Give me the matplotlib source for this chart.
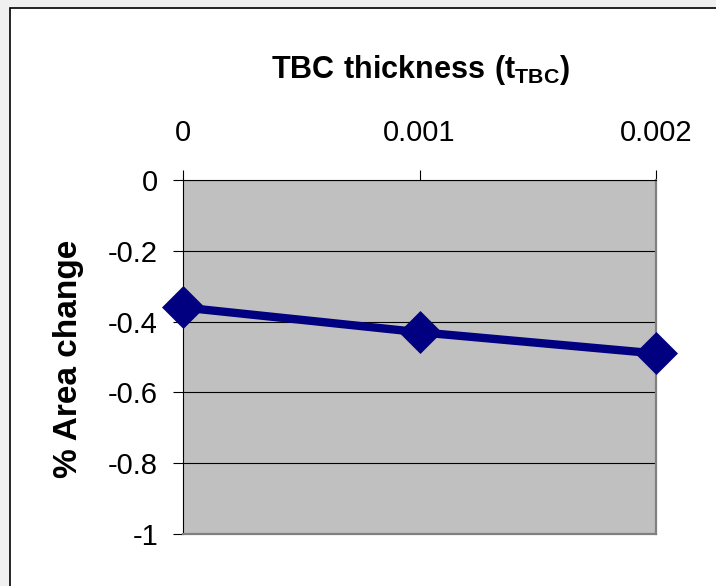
import matplotlib.pyplot as plt
from matplotlib.patches import Rectangle

# data
thickness = [0, 0.001, 0.002]
thickness_labels = ["0", "0.001", "0.002"]
area_change = [-0.36, -0.43, -0.49]
y_ticks = [0, -0.2, -0.4, -0.6, -0.8, -1]
y_tick_labels = ["0", "-0.2", "-0.4", "-0.6", "-0.8", "-1"]

plt.rcParams['font.family'] = ['Liberation Sans', 'DejaVu Sans']
plt.rcParams['mathtext.fontset'] = 'custom'
plt.rcParams['mathtext.rm'] = 'Liberation Sans'
plt.rcParams['mathtext.bf'] = 'Liberation Sans:bold'

W, H = 716, 586
fig = plt.figure(figsize=(W / 100, H / 100), dpi=100)
fig.patch.set_facecolor('#f0f0f0')

# white chart frame (runs off the right and bottom edges)
fig.patches.append(Rectangle((10 / W, -0.05), 1.1, 1 - 8 / H + 0.05, transform=fig.transFigure,
                             facecolor='white', edgecolor='black', linewidth=1.2, zorder=-1))

ax = fig.add_axes([183 / W, 1 - 534 / H, (656 - 183) / W, (534 - 180) / H])
ax.set_facecolor('#c0c0c0')

ax.plot(thickness, area_change, color='#000080', linewidth=6, marker='D',
        markersize=21, markeredgewidth=0.5, clip_on=False, zorder=5)

ax.set_xlim(0, 0.002)
ax.set_ylim(-1, 0)
ax.set_xticks(thickness)
ax.set_xticklabels(thickness_labels)
ax.set_yticks(y_ticks)
ax.set_yticklabels(y_tick_labels)

ax.xaxis.tick_top()
ax.tick_params(axis='x', direction='out', length=7, width=0.8, labelsize=21, pad=17)
ax.tick_params(axis='y', direction='out', length=7, width=0.8, labelsize=21, pad=11)

ax.grid(axis='y', color='black', linewidth=0.8)
ax.set_axisbelow(True)

for side in ['top', 'left']:
    ax.spines[side].set_color('black')
    ax.spines[side].set_linewidth(0.8)
for side in ['right', 'bottom']:
    ax.spines[side].set_color('#808080')
    ax.spines[side].set_linewidth(1.6)

fig.text(421 / W, 1 - 78 / H, r'$\mathbf{TBC\ thickness\ (t_{TBC})}$', fontsize=22,
         ha='center', va='baseline')
fig.text(68 / W, 1 - 359 / H, '% Area change', fontsize=24, fontweight='bold',
         rotation=90, ha='center', va='center')

fig.savefig('out.png', dpi=100, facecolor=fig.get_facecolor())
